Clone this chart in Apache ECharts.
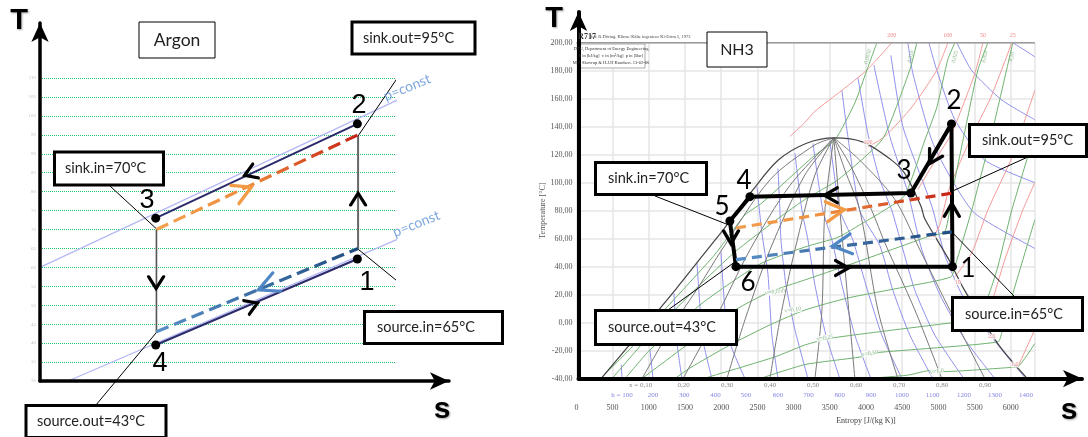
<!DOCTYPE html>
<html>
<head>
<meta charset="UTF-8">
<style>body{margin:0;background:#fff}#c{width:1088px;height:437px}</style>
<script src="https://cdn.jsdelivr.net/npm/echarts@6/dist/echarts.min.js"></script>
</head>
<body>
<div id="c"></div>
<script>
// ---- Argon panel, [s, T]
var argonTicks = [30, 110, 5];
var argonHigh = [[89.4, 97.9], [32.6, 73]];
var argonLow = [[32.6, 39.5], [89.4, 62.2]];
var argonUp = [[89.6, 64.8], [89.6, 94.7]];
var argonDown = [[32.8, 70], [32.8, 42.7]];
var argonSink = [[32.8, 70], [89.6, 95]];
var argonSource = [[32.8, 43], [89.6, 65]];
var argonPoints = [[89.4, 62.2], [89.4, 97.9], [32.6, 73], [32.6, 39.5]];
var argonPressure = [[[0, 60], [114, 110]], [[7.9, 30], [114, 72.8]]];
var argonLeaders = [[[89.6, 94.7], [105, 116]], [[32.9, 70.1], [19.7, 81.5]], [[89.6, 64.8], [110.7, 48.7]], [[32.7, 42.7], [15.8, 23.7]]];
var argonBlack = [[59.2, 84.9, 202], [89.6, 78, 90], [32.7, 56, -90], [59.7, 50, 22]];
var argonOrange = [[57.2, 80.2, 24]];
var argonBlue = [[64.1, 55.1, 203]];
var argonPressureLabels = [[103.4, 107.5, 'p=const', 22], [106, 71.5, 'p=const', 22]];

// ---- NH3 panel, [s, T]
var nh3Cycle = [[5194, 40], [5180, 142], [4620, 92.6], [2397, 90], [2120, 72.6], [2204, 40], [5194, 40]];
var nh3Points = [[5194, 40], [5180, 142], [4620, 92.6], [2397, 90], [2120, 72.6], [2204, 40]];
var nh3Sink = [[2204, 67.6], [5199, 92.6]];
var nh3Source = [[2204, 45], [5185, 64.8]];
var nh3Leaders = [[[5199, 94.1], [6221, 118]], [[5199, 64], [6055, 18.4]], [[1085, 90.5], [2093, 70]], [[2190, 43.4], [1265, 9]]];
var nh3Black = [[4923, 117.6, 240], [3515, 91, 180], [2135, 61, -90], [3667, 39, 0], [5185, 80.5, 90]];
var nh3Orange = [[3577, 80, 7]];
var nh3Blue = [[3667, 55.5, 187]];
var topLine = [[0, 200], [6331, 200]];
var dome = [[340, -40], [1375, 24], [1914, 59], [2024, 66], [2440, 95], [2785, 116], [3170, 128], [3560, 132], [3960, 129], [4330, 117], [4530, 107], [4760, 83], [4813, 74], [5144, 45], [5340, 25], [5820, -15], [6210, -39]];

var enthalpyCurves = [
  [[630, -40], [620, -30]],
  [[1058, -40], [1016, -19]],
  [[1458, -40], [1389, -14.5], [1347, 21]],
  [[1872, -40], [1748, -12.4], [1665, 42.6]],
  [[2328, -40], [2093, -10], [1997, 50.5]],
  [[2784, -40], [2700, -9], [2645, 35], [2562, 64], [2494, 97]],
  [[3198, -40], [3018, -5], [2894, 27], [2825, 59], [2811, 80], [2784, 110]],
  [[3639, -40], [3446, -9], [3294, 27], [3198, 59], [3115, 80], [3018, 121]],
  [[4067, -40], [3846, -9], [3667, 27], [3529, 59], [3404, 80], [3267, 128]],
  [[4495, -40], [4219, -9], [3998, 27], [3818, 59], [3639, 80], [3501, 130]],
  [[4923, -40], [4606, -9], [4371, 23], [4191, 55], [3915, 80], [3749, 133], [3667, 166]],
  [[5351, -40], [4951, -9], [4675, 23], [4495, 55], [4357, 80], [4191, 102], [4026, 135], [3888, 175]],
  [[5779, -40], [5365, -12], [5020, 20], [4771, 52], [4578, 93], [4329, 133], [4108, 184]],
  [[6207, -40], [5821, -16], [5365, 16], [5089, 48], [4910, 83], [4509, 140], [4343, 191]],
  [[4578, 200], [4647, 178], [4910, 130], [5185, 102], [5503, 78], [6331, 53]],
  [[4868, 200], [4979, 180], [5227, 145], [5641, 116], [6331, 100]],
  [[5254, 200], [5461, 180], [5876, 159], [6331, 145]],
  [[6028, 200], [6331, 190]]
];
var volumeCurves = [
  [[4150, 200], [4012, 180.5], [3846, 157], [3570, 130.5], [3267, 118.5], [2562, 85.5], [2328, 77], [2093, 61], [1886, 47], [1127, 4], [767, -17.4], [353, -39]],
  [[4702, 200], [4619, 183], [4440, 157], [4219, 130.5], [3612, 102], [3156, 88], [2673, 70], [2190, 50.5], [1706, 27], [1016, -9], [491, -40]],
  [[5227, 200], [5130, 188], [4979, 154], [4813, 130.5], [4536, 91], [4260, 80.5], [3984, 72], [3612, 61], [3156, 54], [2562, 42.6], [2190, 30.5], [1706, 12.6], [1016, -19.5], [671, -40]],
  [[5683, 200], [5545, 180.5], [5406, 147], [5199, 95], [5089, 65], [4882, 62], [4536, 55.5], [3749, 41], [3156, 30.5], [2673, 22], [2190, 9], [1706, -9], [906, -40]],
  [[6028, 200], [5738, 135.5], [5461, 80.5], [5227, 40], [5172, 32.6], [4536, 25.5], [3749, 17.6], [3156, 9], [2673, -1.6], [2121, -16], [1568, -32.4], [1361, -40]],
  [[6331, 135], [6014, 80.5], [5821, 40], [5683, 18.4], [5503, 2], [5172, -0.2], [3529, -11], [3156, -16], [2742, -24.5], [1817, -39]],
  [[6331, 73.4], [6014, 18.4], [5876, -7], [5821, -13.8], [4122, -21.6], [3929, -24.5], [3156, -30], [2535, -40]],
  [[6331, -15], [6097, -31.6], [6014, -32], [5062, -35], [4910, -34], [4578, -37.5], [4000, -40]]
];
var qualityCurves = [
  [[906, -40], [1320, -3], [1706, 27], [1983, 50], [2673, 102], [3294, 127], [3556, 132]],
  [[1472, -40], [1914, 2], [2397, 52], [2949, 98], [3556, 132]],
  [[2079, -40], [2328, 2], [2673, 52], [3156, 105.5], [3556, 132]],
  [[2673, -40], [2811, 2], [3018, 52], [3294, 105.5], [3556, 132]],
  [[3294, -40], [3391, 9], [3432, 80], [3556, 132]],
  [[3846, -40], [3749, 16], [3639, 80], [3556, 132]],
  [[4440, -40], [4164, 9], [3915, 80], [3708, 109], [3556, 132]],
  [[5047, -40], [4675, 9], [4260, 57], [4081, 80], [3777, 113], [3556, 132]],
  [[5641, -40], [5158, 9], [4744, 52], [4398, 88], [3915, 116], [3556, 132]]
];
var pressureCurves = [
  [[4357, 200], [4012, 180.5], [3667, 166], [3294, 151], [3156, 143], [2949, 133]],
  [[5130, 200], [4979, 180.5], [4633, 154], [4260, 133], [4026, 125.5]],
  [[5614, 200], [5503, 178], [5185, 135.5], [4979, 118], [4716, 95]],
  [[6014, 200], [5724, 161], [5434, 130.5], [5144, 95], [5020, 70], [4923, 60.5]],
  [[6331, 166], [6014, 118], [5683, 80.5], [5461, 50], [5227, 32.6]],
  [[6331, 100], [6166, 80.5], [5917, 45], [5710, 9], [5641, -5]],
  [[6331, -5], [6097, -31.6]]
];
var pressureLabels = [[4357, 205, '200'], [5130, 205, '100'], [5614, 205, '50'], [6028, 205, '25'], [4026, 129, '100'], [4923, 62, '50'], [5268, 29, '10'], [5738, -10, '2,5'], [6055, -30, '1,0']];
var volumeTopLabels = [[4026, 190, '0,0050'], [4619, 190, '0,010'], [5227, 190, '0,025'], [5641, 190, '0,050'], [6014, 190, '0,10']];
var volumeLabels = [[2990, 9, 'v=0,10'], [2742, 22, 'v=0,050'], [3432, -11, 'v=0,25'], [4053, -22, 'v=0,50'], [4979, -35, 'v=1,0']];
var qualityLabels = ['x = 0,10', '0,20', '0,30', '0,40', '0,50', '0,60', '0,70', '0,80', '0,90'];
var qualityS = [888, 1482, 2080, 2674, 3268, 3862, 4456, 5050, 5644];
var enthalpyLabels = ['h = 100', '200', '300', '400', '500', '600', '700', '800', '900', '1000', '1100', '1200', '1300', '1400'];
var enthalpyS = [630, 1058, 1491, 1921, 2342, 2784, 3205, 3636, 4069, 4497, 4921, 5353, 5781, 6209];

var SERIF = '"Liberation Serif", serif';
var BOX = 'Lato, sans-serif';

function curve(data, panel, color, width, extra) {
  var s = {
    type: 'line', xAxisIndex: panel, yAxisIndex: panel, data: data, symbol: 'none', clip: false, silent: true,
    animation: false, z: 2, lineStyle: {color: color, width: width}
  };
  for (var k in extra) s[k] = extra[k];
  return s;
}
function dashed(data, panel, colors, dash) {
  return curve(data, panel, '#000', 3.2, {z: 5, lineStyle: {
    width: 3.2, type: dash,
    color: new echarts.graphic.LinearGradient(0, 0, 1, 0, colors)
  }});
}
function chevrons(data, panel, color, size, width) {
  return {
    type: 'scatter', xAxisIndex: panel, yAxisIndex: panel, clip: false, silent: true, animation: false, z: 7,
    symbol: 'path://M0,0L10,10L0,20', symbolSize: size,
    symbolRotate: function (v) { return v[2]; },
    itemStyle: {color: 'rgba(0,0,0,0)', borderColor: color, borderWidth: width, borderCap: 'round', opacity: 1},
    data: data
  };
}
function dots(data, panel, size) {
  return {type: 'scatter', xAxisIndex: panel, yAxisIndex: panel, clip: false, silent: true, animation: false, z: 8,
    symbolSize: size, itemStyle: {color: '#000', opacity: 1}, data: data};
}
function labels(data, panel, color, size, rotate, bg, family) {
  return {
    type: 'scatter', xAxisIndex: panel, yAxisIndex: panel, clip: false, silent: true, animation: false, z: 4,
    symbolSize: 0, data: data,
    label: {
      show: true, position: 'inside', color: color, fontFamily: family || SERIF, fontSize: size,
      backgroundColor: bg || 'transparent', rotate: rotate,
      formatter: function (p) { return p.value[2]; }
    }
  };
}
function frameAxis(grid, color, width) {
  return {
    gridIndex: grid, type: 'value', min: 0, max: 1, z: 6, silent: true,
    axisLabel: {show: false}, axisTick: {show: false}, splitLine: {show: false},
    axisLine: {show: true, symbol: ['none', 'arrow'], symbolSize: [13, 19], lineStyle: {color: color, width: width}}
  };
}
function box(x, y, w, h, text, lw, fs, textX) {
  return [
    {type: 'rect', z: 50, silent: true, shape: {x: x, y: y, width: w, height: h}, style: {fill: '#fff', stroke: '#000', lineWidth: lw}},
    {type: 'text', z: 51, silent: true, x: textX || x + w / 2, y: y + h / 2, style: {text: text, fill: '#222', font: fs + 'px ' + BOX, align: textX ? 'left' : 'center', verticalAlign: 'middle'}}
  ];
}
function txt(x, y, text, font, fill, extra) {
  var e = {type: 'text', z: 52, silent: true, x: x, y: y, style: {text: text, font: font, fill: fill || '#000', align: 'center', verticalAlign: 'middle'}};
  for (var k in extra) e.style[k] = extra[k];
  return e;
}
function bigLetter(x, y, text, size) {
  return txt(x, y, text, 'bold ' + size + 'px "Liberation Sans"', '#000', {textShadowColor: 'rgba(0,0,0,0.35)', textShadowBlur: 2, textShadowOffsetX: 1, textShadowOffsetY: 1});
}

var series = [];
// NH3 background diagram
enthalpyCurves.forEach(function (c) { series.push(curve(c, 2, '#9090ee', 1, {smooth: 0.2})); });
pressureCurves.forEach(function (c) { series.push(curve(c, 2, '#f29a9a', 1, {smooth: 0.2})); });
volumeCurves.forEach(function (c) { series.push(curve(c, 2, '#6fb36f', 1, {smooth: 0.2})); });
qualityCurves.forEach(function (c) { series.push(curve(c, 2, '#7a7a7a', 1, {smooth: 0.3})); });
series.push(curve(dome, 2, '#444', 1.2, {smooth: 0.3}));
series.push(curve(topLine, 2, '#9a9a9a', 1.5, {}));
series.push(labels(pressureLabels, 2, '#e86a6a', 6, 0, '#fff'));
series.push(labels(volumeTopLabels, 2, '#6aa86a', 5.5, 75));
series.push(labels(volumeLabels, 2, '#6aa86a', 6, 8, '#fff'));
series.push(labels(qualityLabels.map(function (t, i) { return [qualityS[i], -45, t]; }), 2, '#666', 7, 0));
series.push(labels(enthalpyLabels.map(function (t, i) { return [enthalpyS[i], -52, t]; }), 2, '#6666dd', 7, 0));
// NH3 cycle
nh3Leaders.forEach(function (c) { series.push(curve(c, 2, '#000', 1, {z: 4})); });
series.push(curve(nh3Cycle, 2, '#000', 4, {z: 5}));
series.push(dashed(nh3Sink, 2, [{offset: 0, color: '#f0a050'}, {offset: 0.4, color: '#f09040'}, {offset: 1, color: '#c41e14'}], [10, 6]));
series.push(dashed(nh3Source, 2, [{offset: 0, color: '#5a90c8'}, {offset: 1, color: '#1f4c80'}], [10, 6]));
series.push(chevrons(nh3Black, 2, '#000', [13, 15], 3.2));
series.push(chevrons(nh3Orange, 2, '#f39a45', [18, 20], 3.2));
series.push(chevrons(nh3Blue, 2, '#4f86c4', [19, 20], 3.2));
series.push(dots(nh3Points, 2, 9));
// Argon
argonPressure.forEach(function (c) { series.push(curve(c, 0, '#b4b8f4', 1.3, {})); });
series.push(labels(argonPressureLabels, 0, '#5b90d6', 14, 22, null, BOX));
argonLeaders.forEach(function (c) { series.push(curve(c, 0, '#000', 1, {z: 4})); });
series.push(curve(argonHigh, 0, '#2b2a6b', 2, {z: 5}));
series.push(curve(argonLow, 0, '#2b2a6b', 2, {z: 5}));
series.push(curve(argonUp, 0, '#666', 2, {z: 5}));
series.push(curve(argonDown, 0, '#555', 1.6, {z: 5}));
series.push(dashed(argonSink, 0, [{offset: 0, color: '#f4a350'}, {offset: 0.45, color: '#ee8a3c'}, {offset: 1, color: '#c41e14'}], [13, 6]));
series.push(dashed(argonSource, 0, [{offset: 0, color: '#5a90c8'}, {offset: 1, color: '#1f4c80'}], [13, 6]));
series.push(chevrons(argonBlack, 0, '#000', [12, 15], 3));
series.push(chevrons(argonOrange, 0, '#f39a45', [18, 20], 3.2));
series.push(chevrons(argonBlue, 0, '#4f86c4', [20, 20], 3.2));
series.push(dots(argonPoints, 0, 9));

var graphics = [].concat(
  box(139, 22, 76, 36, 'Argon', 1, 17.5),
  box(352, 22, 123, 32, 'sink.out=95°C', 3, 14.5, 363),
  box(54.5, 152, 109, 33, 'sink.in=70°C', 3, 14.5, 65),
  box(364.5, 311.5, 138, 32, 'source.in=65°C', 3, 14.5, 377),
  box(26, 405.5, 140, 32, 'source.out=43°C', 3, 14.5, 37),
  box(707, 32, 60, 35, 'NH3', 1, 16),
  box(969.5, 124.5, 117, 32, 'sink.out=95°C', 3, 14.5, 982),
  box(595.5, 162.5, 111, 32, 'sink.in=70°C', 3, 14.5, 608),
  box(952.5, 297.5, 130, 33, 'source.in=65°C', 3, 14.5, 965),
  box(595.5, 310.5, 141, 34, 'source.out=43°C', 3, 14.5, 608),
  [{type: 'rect', z: 3, silent: true, shape: {x: 578, y: 44, width: 67, height: 24}, style: {fill: '#fff', stroke: '#aaa', lineWidth: 1}}],
  [
    bigLetter(19, 21, 'T', 29), bigLetter(442, 410, 's', 30),
    bigLetter(554, 19, 'T', 29), bigLetter(1069, 411, 's', 30),
    txt(359, 106, '2', '27px "Liberation Sans"'), txt(367, 283, '1', '27px "Liberation Sans"'),
    txt(147, 201, '3', '27px "Liberation Sans"'), txt(160, 364, '4', '27px "Liberation Sans"'),
    txt(954, 101, '2', '26px ' + BOX), txt(904, 171, '3', '26px ' + BOX), txt(744, 181, '4', '26px ' + BOX),
    txt(722, 207, '5', '26px ' + BOX), txt(748, 283, '6', '26px ' + BOX), txt(968, 269, '1', '26px ' + BOX),
    txt(587, 37, 'R717', 'bold 8px ' + SERIF, '#333'),
    txt(640, 37, 'Ref: R.Döring. Klima+Kälte ingenieur Ki-Extra 5, 1973', '4.5px ' + SERIF, '#444'),
    txt(611, 49, 'DTU, Department of Energy Engineering', '4.5px ' + SERIF, '#333'),
    txt(611, 56, 'h in [kJ/kg]  v in [m³/kg]  p in [Bar]', '4.5px ' + SERIF, '#333'),
    txt(611, 63, 'M.J. Skovrup & H.J.H Knudsen. 13-02-06', '4.5px ' + SERIF, '#333'),
    txt(866, 421, 'Entropy [J/(kg K)]', '8px ' + SERIF, '#444')
  ]
);

var chart = echarts.init(document.getElementById('c'), null, {renderer: 'canvas'});
chart.setOption({
  animation: false,
  backgroundColor: '#fff',
  grid: [
    {left: 40, top: 78, width: 355, height: 303},
    {left: 40, top: 23, width: 409, height: 358},
    {left: 576.4, top: 42.7, width: 458.4, height: 335.9},
    {left: 578.5, top: 12, width: 503.5, height: 366.6}
  ],
  xAxis: [
    {gridIndex: 0, type: 'value', min: 0, max: 100, show: false},
    frameAxis(1, '#000', 3.5),
    {
      gridIndex: 2, type: 'value', min: 0, max: 6331, interval: 500, axisLine: {show: false}, axisTick: {show: false},
      axisLabel: {margin: 25, fontFamily: SERIF, fontSize: 8, color: '#555', showMaxLabel: false, formatter: function (v) { return String(v); }},
      splitLine: {show: true, lineStyle: {color: '#e6e6e6', width: 1.5}}
    },
    frameAxis(3, '#000', 4)
  ],
  yAxis: [
    {
      gridIndex: 0, type: 'value', min: argonTicks[0], max: argonTicks[1], interval: argonTicks[2],
      axisLine: {show: false}, axisTick: {show: false},
      axisLabel: {margin: 4, fontFamily: SERIF, fontSize: 5, color: '#c4c4c4'},
      splitLine: {show: true, lineStyle: {color: '#22c36a', width: 1, type: 'dotted'}}
    },
    frameAxis(1, '#000', 3.5),
    {
      gridIndex: 2, type: 'value', min: -40, max: 200, interval: 20, axisLine: {show: false}, axisTick: {show: false},
      name: 'Temperature [°C]', nameLocation: 'middle', nameGap: 24,
      nameTextStyle: {fontFamily: SERIF, fontSize: 8, color: '#555'},
      axisLabel: {margin: 4, fontFamily: SERIF, fontSize: 8, color: '#555', formatter: function (v) { return v.toFixed(2).replace('.', ','); }},
      splitLine: {show: true, lineStyle: {color: '#e6e6e6', width: 1.5}}
    },
    frameAxis(3, '#000', 4)
  ],
  series: series,
  graphic: {elements: graphics}
});
</script>
</body>
</html>
